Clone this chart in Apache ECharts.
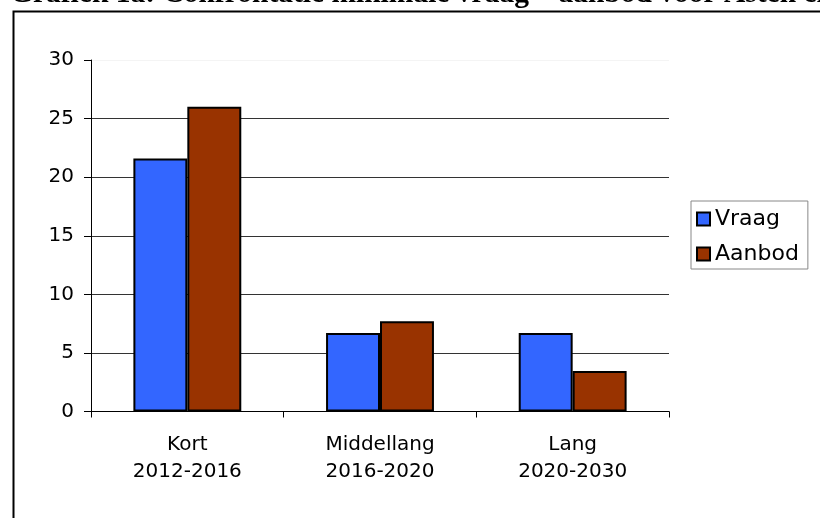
<!DOCTYPE html>
<html><head><meta charset="utf-8">
<script src="https://cdn.jsdelivr.net/npm/echarts@6/dist/echarts.min.js"></script>
<style>html,body{margin:0;padding:0;background:#fff}#c{width:820px;height:518px}</style>
</head><body><div id="c"></div>
<script>
const title = 'Grafiek 1a: Confrontatie minimale vraag \u2013 aanbod voor Asten en Heusden';
const categories = ['Kort\n2012-2016', 'Middellang\n2016-2020', 'Lang\n2020-2030'];
const seriesNames = ['Vraag', 'Aanbod'];
const vraag = [21.6, 6.7, 6.7];
const aanbod = [26.0, 7.7, 3.45];
const yTicks = [0, 5, 10, 15, 20, 25, 30];

const font = 'DejaVu Sans';
const chart = echarts.init(document.getElementById('c'));
chart.setOption({
  backgroundColor: '#fff',
  animation: false,
  graphic: [
    {type: 'rect', left: 11, top: 9, shape: {x: 0, y: 0, width: 900, height: 600},
     style: {fill: 'none', stroke: '#000', lineWidth: 2}, z: 0},
    {type: 'text', x: 10, y: -6, z: 10, style: {text: title, font: 'bold 29.5px "Liberation Serif"', fill: '#000', verticalAlign: 'middle'}}
  ],
  grid: {left: 91, top: 60, width: 578, height: 351.5, containLabel: false},
  legend: {
    orient: 'vertical', left: 691, top: 201,
    data: seriesNames,
    borderColor: '#888', borderWidth: 1, padding: [6, 9, 3, 5],
    itemWidth: 13, itemHeight: 13, itemGap: 11, icon: 'rect',
    itemStyle: {borderColor: '#000', borderWidth: 2},
    textStyle: {fontFamily: font, fontSize: 22, color: '#000', lineHeight: 24}
  },
  xAxis: {
    type: 'category', data: categories,
    axisLine: {lineStyle: {color: '#000', width: 1}},
    axisTick: {show: true, alignWithLabel: false, length: 6, lineStyle: {color: '#000'}},
    axisLabel: {fontFamily: font, fontSize: 20, color: '#000', lineHeight: 27, margin: 20}
  },
  yAxis: {
    type: 'value', min: yTicks[0], max: yTicks[yTicks.length - 1], interval: 5,
    axisLine: {show: true, lineStyle: {color: '#000', width: 1}},
    axisTick: {show: true, length: 7, lineStyle: {color: '#000'}},
    axisLabel: {fontFamily: font, fontSize: 20, color: '#000', margin: 17},
    splitLine: {show: true, lineStyle: {color: ['#000', '#333', '#333', '#333', '#333', '#333', '#f4f4f4'], width: 1}}
  },
  series: [
    {name: seriesNames[0], type: 'bar', data: vraag, barGap: '0%', barCategoryGap: '44%',
     itemStyle: {color: '#3366FF', borderColor: '#000', borderWidth: 2}},
    {name: seriesNames[1], type: 'bar', data: aanbod, barGap: '0%', barCategoryGap: '44%',
     itemStyle: {color: '#993300', borderColor: '#000', borderWidth: 2}}
  ]
});
</script></body></html>
